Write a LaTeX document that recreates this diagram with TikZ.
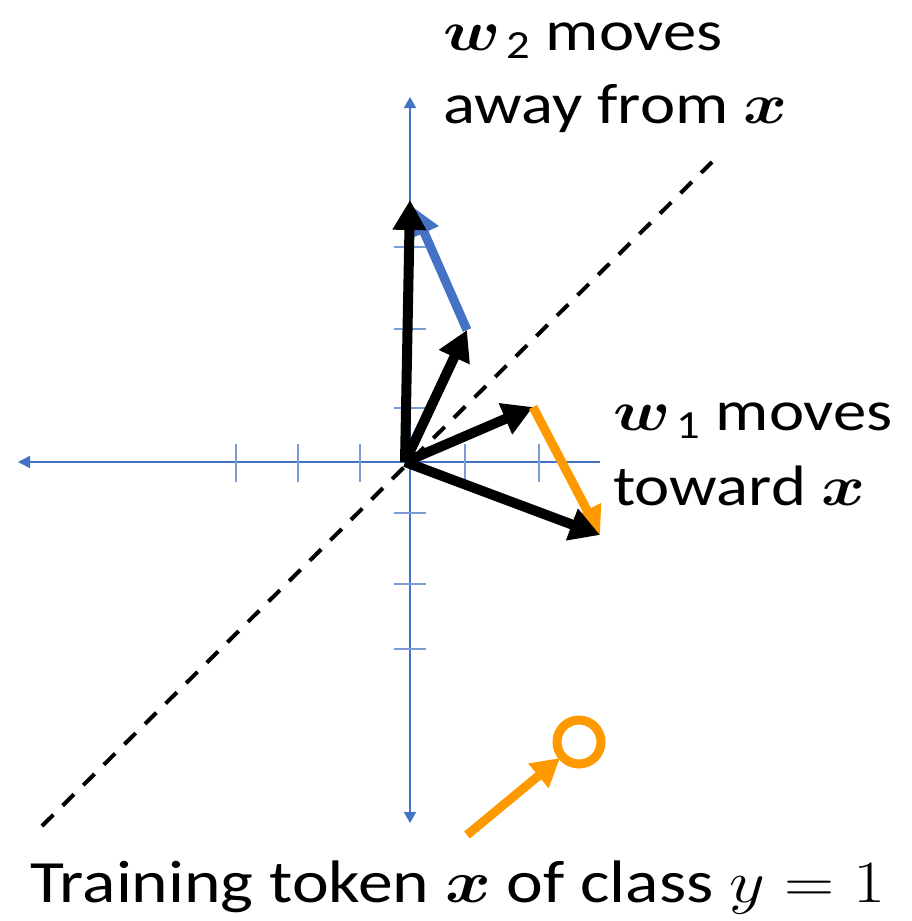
\RequirePackage{fix-cm}
\documentclass[tikz,border=0pt]{standalone}
\usepackage{amsmath}
\usepackage{bm}
\usepackage{fontspec}
\setmainfont{Carlito}
\usetikzlibrary{arrows.meta}
\definecolor{axisblue}{RGB}{68,114,196}
\definecolor{updorange}{RGB}{255,153,0}
\newcommand{\hstretch}[2][1.17]{\scalebox{#1}[1]{#2}}

\begin{document}
\begin{tikzpicture}[x=1pt,y=-1pt,
  axis/.style={color=axisblue, line width=1.5pt},
  axtick/.style={color=axisblue!70, line width=1.5pt},
  vec/.style={line width=10pt, -{Triangle[width=32pt,length=30pt]}},
  upd/.style={line width=9pt, -{Triangle[width=30pt,length=28pt]}},
  lbl/.style={anchor=base west, inner sep=0pt, font=\fontsize{57}{64}\selectfont},
  caption lbl/.style={anchor=base west, inner sep=0pt, font=\fontsize{60}{68}\selectfont}]
\useasboundingbox (0,0) rectangle (912,921);
\coordinate (A0) at (410,462);
\coordinate (O) at (405,462);
\coordinate (Xl) at (18,462);
\coordinate (Xr) at (600,462);
\coordinate (Yt) at (410,97);
\coordinate (Yb) at (410,823);
\coordinate (D1) at (42,826);
\coordinate (D2) at (712,162);
\coordinate (W2old) at (467,330);
\coordinate (W2new) at (410,200);
\coordinate (W2blue) at (413,207);
\coordinate (W1old) at (533,407);
\coordinate (W1new) at (600,535);
\coordinate (X0) at (579,742);
\coordinate (T0) at (467,835);
\coordinate (T1) at (560,758);

% axes
\draw[axis, -{Triangle[width=12pt,length=12pt]}] (Xr) -- (Xl);
\draw[axis, {Triangle[width=12pt,length=11pt]}-{Triangle[width=12pt,length=11pt]}] (Yb) -- (Yt);
\foreach \x in {236,298,360,465,539}
  \draw[axtick] (\x,444) -- (\x,482);
\foreach \y in {247,329,408,513,584,649}
  \draw[axtick] (394,\y) -- (426,\y);

% boundary
\draw[line width=4pt, dash pattern=on 16pt off 13pt] (D1) -- (D2);

% w2
\draw[upd, color=axisblue] (W2old) -- (W2blue);
\draw[vec] (O) -- (W2old);
\draw[vec] (O) -- (W2new);

% w1
\draw[vec] (O) -- (W1old);
\draw[upd, color=updorange] (W1old) -- (W1new);
\draw[vec] (O) -- (W1new);

% training token
\draw[color=updorange, line width=9pt] (X0) circle (22);
\draw[upd, color=updorange] (T0) -- (T1);

\node[lbl] (L2a) at (443,50) {\hstretch{$\bm{w}_{\text{\,2}}$ moves}};
\node[lbl] (L2b) at (443,123) {\hstretch{away from $\bm{x}$}};
\node[lbl] (L1a) at (613,430) {\hstretch{$\bm{w}_{\text{\,1}}$ moves}};
\node[lbl] (L1b) at (613,505) {\hstretch{toward $\bm{x}$}};
\node[caption lbl] (Lx) at (30,902) {\hstretch[1.16]{Training token $\bm{x}$ of class $y=1$}};
\end{tikzpicture}
\end{document}
